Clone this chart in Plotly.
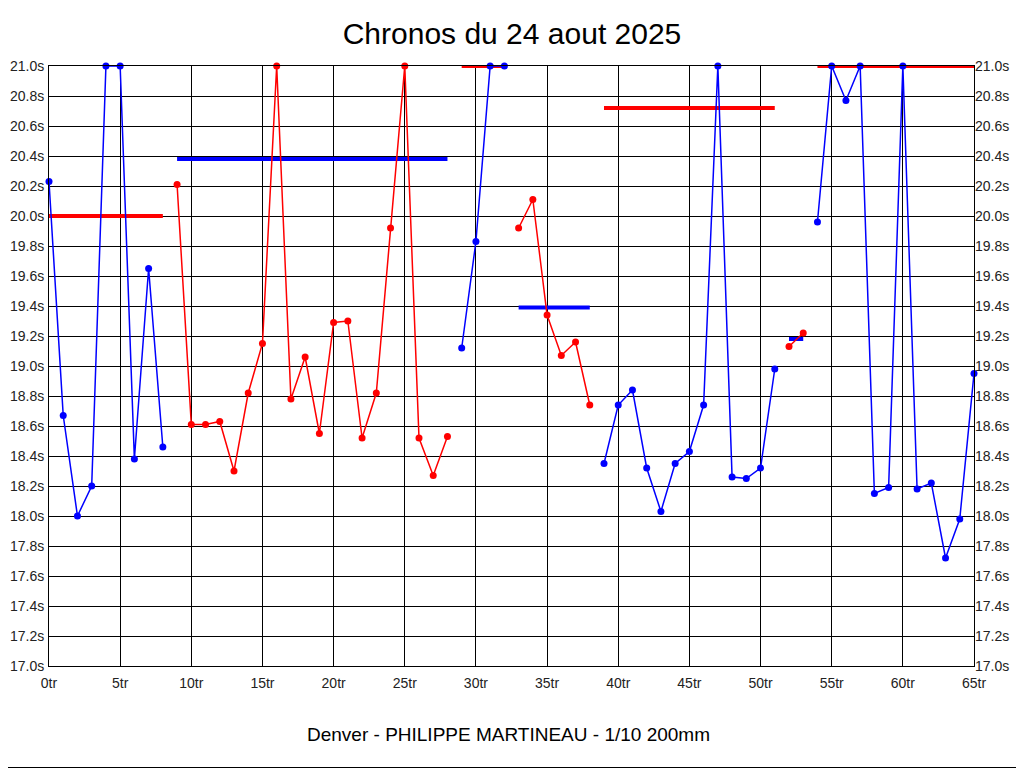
import plotly.graph_objects as go

# Lap times (seconds), lap 0..65 ; values at 21.0 are clipped at the top of the chart
laps = list(range(66))
times = [
    20.23, 18.67, 18.00, 18.20, 21.00, 21.00, 18.38, 19.65, 18.46,          # 0-8 blue
    20.21, 18.61, 18.61, 18.63, 18.30, 18.82, 19.15, 21.00, 18.78, 19.06,   # 9-18 red
    18.55, 19.29, 19.30, 18.52, 18.82, 19.92, 21.00, 18.52, 18.27, 18.53,   # 19-28 red
    19.12, 19.83, 21.00, 21.00,                                             # 29-32 blue
    19.92, 20.11, 19.34, 19.07, 19.16, 18.74,                               # 33-38 red
    18.35, 18.74, 18.84, 18.32, 18.03, 18.35, 18.43, 18.74, 21.00, 18.26,   # 39-48 blue
    18.25, 18.32, 18.98,                                                    # 49-51 blue
    19.13, 19.22,                                                           # 52-53 red
    19.96, 21.00, 20.77, 21.00, 18.15, 18.19, 21.00, 18.18, 18.22, 17.72,   # 54-63 blue
    17.98, 18.95,                                                           # 64-65 blue
]

# Segments (first lap, last lap, colour) and their average lines
seg_start = [0, 9, 29, 33, 39, 52, 54]
seg_end = [8, 28, 32, 38, 51, 53, 65]
seg_color = ["#0000FF", "#FF0000", "#0000FF", "#FF0000", "#0000FF", "#FF0000", "#0000FF"]
avg_value = [20.00, 20.38, 21.00, 19.39, 20.72, 19.18, 21.00]
avg_color = ["#FF0000", "#0000FF", "#FF0000", "#0000FF", "#FF0000", "#0000FF", "#FF0000"]

y_ticks = [17.0 + 0.2 * i for i in range(21)]
y_labels = [f"{v:.1f}s" for v in y_ticks]
x_ticks = list(range(0, 66, 5))
x_labels = [f"{v}tr" for v in x_ticks]

fig = go.Figure()

for s, e, v, c in zip(seg_start, seg_end, avg_value, avg_color):
    fig.add_trace(go.Scatter(
        x=[laps[s], laps[e]], y=[v, v], mode="lines",
        line=dict(color=c, width=4), cliponaxis=False,
        showlegend=False, hoverinfo="skip"))

for s, e, c in zip(seg_start, seg_end, seg_color):
    fig.add_trace(go.Scatter(
        x=laps[s:e + 1], y=times[s:e + 1], mode="lines+markers",
        line=dict(color=c, width=1.5),
        marker=dict(color=c, size=7),
        cliponaxis=False, showlegend=False))

# invisible trace for right axis
fig.add_trace(go.Scatter(x=[0], y=[17.0], yaxis="y2", mode="markers",
                         marker=dict(opacity=0), showlegend=False, hoverinfo="skip"))

font_family = "Liberation Sans, Arial, sans-serif"
tick_font = dict(size=14, color="#222222", family=font_family)

# page body has an 8px margin: figure is placed at (8, 8)
W, H = 1016, 760
L, R, T, B = 41, 50, 58, 102
PW, PH = W - L - R, H - T - B


def px(fx):
    return (fx - L) / PW


def py(fy):
    return (T + PH - fy) / PH


fig.update_layout(
    width=W, height=H,
    margin=dict(l=L, r=R, t=T, b=B, autoexpand=False),
    paper_bgcolor="white", plot_bgcolor="white",
    font=dict(family=font_family, color="#222222"),
    title=dict(text="Chronos du 24 aout 2025", x=504 / W, xanchor="center",
               y=1 - 25 / H, yanchor="middle",
               font=dict(size=30, color="#000000", family=font_family)),
    xaxis=dict(range=[0, 65], tickvals=x_ticks, ticktext=x_labels,
               showgrid=True, gridcolor="black", gridwidth=1,
               showline=True, linecolor="black", linewidth=1, mirror=True,
               zeroline=False, ticks="outside", ticklen=4,
               tickcolor="rgba(0,0,0,0)", tickfont=tick_font),
    yaxis=dict(range=[17.0, 21.0], tickvals=y_ticks, ticktext=y_labels,
               showgrid=True, gridcolor="black", gridwidth=1,
               showline=True, linecolor="black", linewidth=1, mirror=True,
               zeroline=False, ticks="outside", ticklen=1,
               tickcolor="rgba(0,0,0,0)", tickfont=tick_font),
    yaxis2=dict(range=[17.0, 21.0], tickvals=y_ticks, ticktext=y_labels,
                overlaying="y", side="right", showgrid=False, zeroline=False,
                ticks="", tickfont=tick_font),
    annotations=[dict(text="Denver - PHILIPPE MARTINEAU - 1/10 200mm",
                      xref="paper", yref="paper", x=px(500), y=py(726),
                      xanchor="center", yanchor="middle", showarrow=False,
                      font=dict(size=19, color="#000000", family=font_family))],
    shapes=[
        dict(type="line", xref="paper", yref="paper",
             x0=px(1014.5), x1=px(1014.5), y0=py(0), y1=py(760),
             line=dict(color="black", width=1)),
        dict(type="line", xref="paper", yref="paper",
             x0=px(0), x1=px(W), y0=py(759.5), y1=py(759.5),
             line=dict(color="black", width=1)),
    ],
)

fig.write_html("out.html")
